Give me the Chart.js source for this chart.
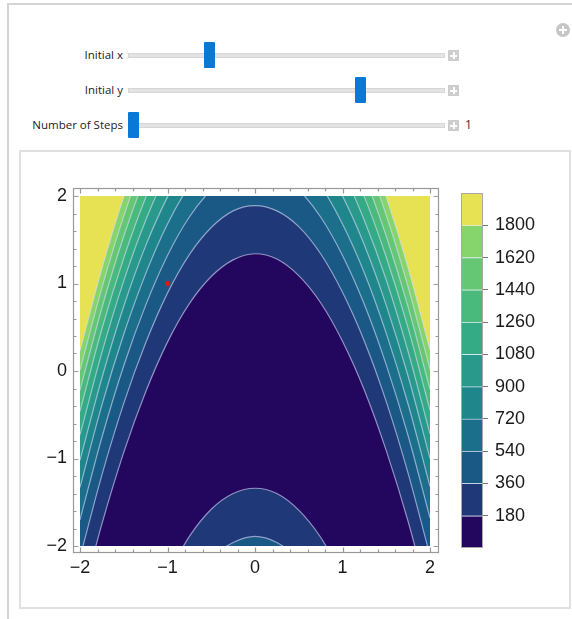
<!DOCTYPE html>
<html>
<head>
<meta charset="utf-8">
<script src="https://cdn.jsdelivr.net/npm/chart.js@4.4.1/dist/chart.umd.min.js"></script>
<style>
  body { margin: 0; background: #fff; font-family: "Open Sans", sans-serif; }
  .abs { position: absolute; }
  #outer { left: 7px; top: 3px; width: 580px; height: 640px; border-left: 2px solid #d4d4d4; border-top: 2px solid #d4d4d4; }
  #pane { left: 19px; top: 150px; width: 548px; height: 455px; border: 2px solid #e0e0e0; }
  .lbl { font-size: 11.5px; color: #222; text-align: right; width: 120px; left: 3px; line-height: 16px; }
  .track { left: 128px; width: 315px; height: 3px; background: #e3e3e3; border: 1px solid #d6d6d6; }
  .thumb { width: 11px; height: 26px; background: #0a78d6; border-radius: 1px; }
  .plus { left: 448px; width: 11px; height: 11px; background: #cdcdcd; }
  .plus:before { content: ""; position: absolute; left: 5px; top: 2px; width: 2px; height: 7px; background: #fff; }
  .plus:after { content: ""; position: absolute; left: 2px; top: 5px; width: 7px; height: 2px; background: #fff; }
  #add { left: 556px; top: 23px; width: 14px; height: 14px; border-radius: 50%; background: #c6c6c6; }
  #add:before { content: ""; position: absolute; left: 6px; top: 3px; width: 2px; height: 8px; background: #fff; }
  #add:after { content: ""; position: absolute; left: 3px; top: 6px; width: 8px; height: 2px; background: #fff; }
  canvas { display: block; }
</style>
</head>
<body>
<div id="outer" class="abs"></div>
<div id="add" class="abs"></div>

<div class="abs lbl" style="top:47px">Initial x</div>
<div class="abs track" style="top:53px"></div>
<div class="abs thumb" style="left:204px;top:42px"></div>
<div class="abs plus" style="top:50px"></div>

<div class="abs lbl" style="top:82px">Initial y</div>
<div class="abs track" style="top:88px"></div>
<div class="abs thumb" style="left:355px;top:77px"></div>
<div class="abs plus" style="top:85px"></div>

<div class="abs lbl" style="top:117px">Number of Steps</div>
<div class="abs track" style="top:123px"></div>
<div class="abs thumb" style="left:128px;top:112px"></div>
<div class="abs plus" style="top:120px"></div>
<div class="abs" style="left:465px;top:116px;font-size:12px;color:#333">1</div>

<div id="pane" class="abs"></div>
<div class="abs" style="left:30px;top:180px"><canvas id="plot" width="420" height="410"></canvas></div>
<div class="abs" style="left:456px;top:185px"><canvas id="bar" width="110" height="370"></canvas></div>

<script>
// x positions where the contours were read
const xs = [-2, -1.75, -1.5, -1.25, -1, -0.75, -0.5, -0.25, 0, 0.25, 0.5, 0.75, 1, 1.25, 1.5, 1.75, 2];
const levels = [180, 360, 540, 720, 900, 1080, 1260, 1440, 1620, 1800];

// upper (arch) branch of each contour level, y at xs
const up180  = [-2.69, -1.75, -0.93, -0.24, 0.33, 0.77, 1.08, 1.27, 1.34, 1.28, 1.09, 0.78, 0.34, -0.22, -0.91, -1.72, -2.66];
const up360  = [-2.13, -1.19, -0.37, 0.32, 0.89, 1.33, 1.64, 1.83, 1.89, 1.83, 1.65, 1.34, 0.90, 0.34, -0.35, -1.17, -2.11];
const up540  = [-1.70, -0.76, 0.06, 0.75, 1.32, 1.76, 2.07, 2.26, 2.32, 2.26, 2.07, 1.76, 1.32, 0.76, 0.07, -0.74, -1.68];
const up720  = [-1.33, -0.39, 0.42, 1.11, 1.68, 2.12, 2.43, 2.62, 2.68, 2.62, 2.43, 2.12, 1.68, 1.12, 0.43, -0.38, -1.32];
const up900  = [-1.02, -0.08, 0.74, 1.43, 1.99, 2.43, 2.75, 2.94, 3.00, 2.94, 2.75, 2.44, 2.00, 1.44, 0.75, -0.06, -1.00];
const up1080 = [-0.73, 0.21, 1.03, 1.72, 2.28, 2.72, 3.03, 3.22, 3.28, 3.22, 3.04, 2.72, 2.29, 1.72, 1.04, 0.22, -0.72];
const up1260 = [-0.46, 0.48, 1.29, 1.98, 2.54, 2.98, 3.30, 3.49, 3.55, 3.49, 3.30, 2.99, 2.55, 1.99, 1.30, 0.49, -0.45];
const up1440 = [-0.22, 0.72, 1.54, 2.23, 2.79, 3.23, 3.54, 3.73, 3.79, 3.73, 3.54, 3.23, 2.80, 2.23, 1.54, 0.73, -0.21];
const up1620 = [0.01, 0.95, 1.77, 2.46, 3.02, 3.46, 3.77, 3.96, 4.02, 3.96, 3.78, 3.46, 3.03, 2.46, 1.78, 0.96, 0.02];
const up1800 = [0.23, 1.17, 1.99, 2.67, 3.24, 3.68, 3.99, 4.18, 4.24, 4.18, 3.99, 3.68, 3.24, 2.68, 1.99, 1.18, 0.24];
// lower branches, only seen near the bottom
const low180 = [null, null, null, null, -2.33, -1.89, -1.58, -1.40, -1.34, -1.40, -1.59, -1.90, -2.34, null, null, null, null];
const low360 = [null, null, null, null, null, -2.45, -2.14, -1.96, -1.89, -1.96, -2.15, -2.46, null, null, null, null, null];

const startPoint = [{x: -1, y: 1}];
const axisTicks = [-2, -1, 0, 1, 2];

const bandColors = ['#23075f', '#1f3878', '#1a5885', '#1b6f8a', '#1f878b', '#28998a', '#34ab84', '#4aba7c', '#65c774', '#86d46c', '#e7e154'];
const lineColor = 'rgba(222,222,255,0.6)';

const uppers = [up180, up360, up540, up720, up900, up1080, up1260, up1440, up1620, up1800];

function pts(ys) {
  return xs.map((x, i) => ({x: x, y: ys[i]}));
}
function minus(v) {
  return String(v).replace('-', '\u2212');
}
function noPad(s) {
  s.paddingTop = 0; s.paddingBottom = 0; s.paddingLeft = 0; s.paddingRight = 0;
}

const datasets = [];
// regions f < level, the outer ones drawn first
uppers.forEach((ys, i) => {
  datasets.push({data: pts(ys), fill: 'start', backgroundColor: bandColors[i],
    borderWidth: 0, order: 20 + i});
});
datasets.push({data: pts(low180), fill: 'start', backgroundColor: bandColors[1], borderWidth: 0, order: 11});
datasets.push({data: pts(low360), fill: 'start', backgroundColor: bandColors[2], borderWidth: 0, order: 10});
// contour lines
uppers.concat([low180, low360]).forEach(ys => {
  datasets.push({data: pts(ys), fill: false, borderColor: lineColor, borderWidth: 1.2, order: 1});
});
datasets.push({data: startPoint, showLine: false, pointRadius: 2.5, pointBackgroundColor: '#f01010',
  pointBorderWidth: 0, order: 0});

const plotBg = {
  id: 'plotBg',
  beforeDatasetsDraw(chart) {
    const a = chart.chartArea, c = chart.ctx;
    c.save();
    c.fillStyle = bandColors[10];
    c.fillRect(a.left, a.top, a.right - a.left, a.bottom - a.top);
    c.restore();
  }
};

const frame = {
  id: 'frame',
  afterDraw(chart) {
    const a = chart.chartArea, c = chart.ctx;
    const sx = chart.scales.x, sy = chart.scales.y;
    const L = a.left - 6.5, R = a.right + 8.5, T = a.top - 7.5, B = a.bottom + 6.5;
    c.save();
    c.strokeStyle = '#999';
    c.lineWidth = 1.2;
    c.strokeRect(L, T, R - L, B - T);
    c.beginPath();
    for (let k = -10; k <= 10; k++) {
      const v = k / 5;
      const len = k % 5 === 0 ? 5 : 3;
      const px = Math.round(sx.getPixelForValue(v)) + 0.5;
      const py = Math.round(sy.getPixelForValue(v)) + 0.5;
      c.moveTo(px, B); c.lineTo(px, B - len);
      c.moveTo(px, T); c.lineTo(px, T + len);
      c.moveTo(L, py); c.lineTo(L + len, py);
      c.moveTo(R, py); c.lineTo(R - len, py);
    }
    c.stroke();
    c.restore();
  }
};

const tickFont = {family: '"Liberation Sans", Arial, sans-serif', size: 18};

new Chart(document.getElementById('plot'), {
  type: 'line',
  data: {datasets: datasets},
  options: {
    responsive: false,
    animation: false,
    devicePixelRatio: 1,
    layout: {padding: {left: 0, top: 16, right: 20, bottom: 0}},
    elements: {
      line: {cubicInterpolationMode: 'monotone', capBezierPoints: false},
      point: {radius: 0}
    },
    datasets: {line: {clip: 0}},
    plugins: {legend: {display: false}, tooltip: {enabled: false}},
    scales: {
      x: {
        type: 'linear', min: -2, max: 2,
        afterFit: s => { s.height = 44; noPad(s); },
        afterBuildTicks: s => { s.ticks = axisTicks.map(v => ({value: v})); },
        grid: {display: false, drawTicks: false},
        border: {display: false},
        ticks: {padding: 11, color: '#1a1a1a', font: tickFont, maxRotation: 0, callback: v => minus(v)}
      },
      y: {
        type: 'linear', min: -2, max: 2,
        afterFit: s => { s.width = 50; noPad(s); },
        afterBuildTicks: s => { s.ticks = axisTicks.map(v => ({value: v})); },
        grid: {display: false, drawTicks: false},
        border: {display: false},
        ticks: {padding: 13, color: '#1a1a1a', font: tickFont, callback: v => minus(v)}
      }
    }
  },
  plugins: [plotBg, frame]
});

// colour bar
const barTop = 1980;
const barSets = bandColors.map((col, i) => ({
  data: [180],
  backgroundColor: col,
  borderColor: 'rgba(215,225,245,0.55)',
  borderWidth: i < 10 ? {top: 1, left: 0, right: 0, bottom: 0} : 0,
  borderSkipped: false,
  barPercentage: 1,
  categoryPercentage: 1
}));

const barFrame = {
  id: 'barFrame',
  afterDraw(chart) {
    const a = chart.chartArea, c = chart.ctx;
    c.save();
    c.strokeStyle = '#a8a8a8';
    c.lineWidth = 1;
    c.strokeRect(a.left + 0.5, a.top + 0.5, a.right - a.left - 1, a.bottom - a.top - 1);
    c.restore();
  }
};

new Chart(document.getElementById('bar'), {
  type: 'bar',
  data: {labels: [''], datasets: barSets},
  options: {
    responsive: false,
    animation: false,
    devicePixelRatio: 1,
    layout: {padding: {left: 5, top: 8, right: 0, bottom: 7}},
    plugins: {legend: {display: false}, tooltip: {enabled: false}},
    scales: {
      x: {display: false, stacked: true},
      y: {
        stacked: true, position: 'right', min: 0, max: barTop,
        afterFit: s => { s.width = 83; noPad(s); },
        afterBuildTicks: s => { s.ticks = [0].concat(levels, [barTop]).map(v => ({value: v})); },
        grid: {drawOnChartArea: false, tickLength: 5, lineWidth: 1,
          color: ctx => (ctx.tick && levels.includes(ctx.tick.value)) ? '#777' : 'rgba(0,0,0,0)'},
        border: {display: false},
        ticks: {padding: 7, color: '#1a1a1a', font: tickFont,
          callback: v => levels.includes(v) ? String(v) : ''}
      }
    }
  },
  plugins: [barFrame]
});
</script>
</body>
</html>
